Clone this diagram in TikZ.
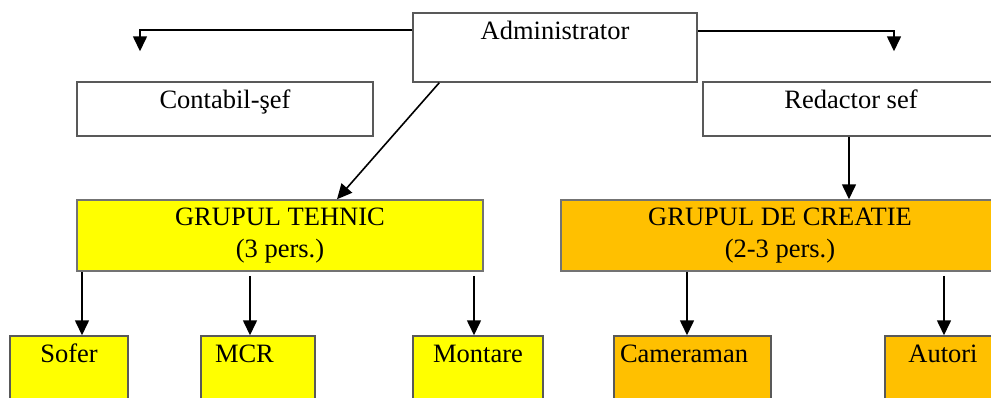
\documentclass[tikz,border=0pt]{standalone}
\usepackage{fontspec}
\setmainfont{Liberation Serif}
\usepackage{xcolor}
\usepackage{tikz}
\usetikzlibrary{positioning,arrows.meta}
\definecolor{tehnicyellow}{HTML}{FFFF00}
\definecolor{creatieorange}{HTML}{FFC000}

\begin{document}
\begin{tikzpicture}[
x=1pt, y=1pt,
font=\fontsize{26.5}{32}\selectfont,
>={Triangle[width=14pt,length=15pt]},
box/.style={rectangle, draw=black!65, line width=1.5pt, fill=white, inner sep=0pt, align=center, text height=26pt},
group/.style={rectangle, draw=black!55, line width=1.5pt, inner sep=0pt, align=center, minimum height=71pt},
leaf/.style={box, text depth=54pt},
link/.style={->, line width=1.6pt}
]
\useasboundingbox (0,0) rectangle (991,-397);

\node[box, minimum width=284pt, text depth=43pt](admin) at (555,-47.5){Administrator};
\node[box, minimum width=296pt, text depth=28pt](contabil) at (225,-109){Contabil-şef};
\node[box, minimum width=296pt, text depth=28pt](redactor)[right of = contabil, node distance=626pt]{Redactor sef};
\node[group, fill=tehnicyellow, minimum width=406pt](tehnic) at (280,-235.5){GRUPUL TEHNIC\\(3 pers.)};
\node[group, fill=creatieorange, minimum width=438pt](creatie)[right of = tehnic, node distance=500pt]{GRUPUL DE CREATIE\\(2-3 pers.)};
\node[leaf, fill=tehnicyellow, minimum width=118pt](sofer) at (69,-376){Sofer};
\node[leaf, fill=tehnicyellow, text width=86pt, inner xsep=14pt, align=left](mcr)[right of = sofer, node distance=189pt]{MCR};
\node[leaf, fill=tehnicyellow, minimum width=130pt](montare)[right of = mcr, node distance=220pt]{Montare};
\node[leaf, fill=creatieorange, text width=145pt, inner xsep=6pt, align=left](cameraman)[right of = montare, node distance=214.5pt]{Cameraman};
\node[leaf, fill=creatieorange, minimum width=116pt](autori)[right of = cameraman, node distance=250.5pt]{Autori};

\coordinate (contabil_in) at ([xshift=-85pt, yshift=30pt]contabil.north);
\coordinate (redactor_in) at ([xshift=43pt, yshift=30pt]redactor.north);

\draw[link] ([yshift=17.5pt]admin.west) -| (contabil_in);
\draw[link] ([yshift=16.5pt]admin.east) -| (redactor_in);
\draw[link] ([xshift=27pt]admin.south west) -- ([xshift=57pt]tehnic.north);
\draw[link] ([xshift=-2pt]redactor.south) -- ([xshift=-2pt]redactor.south |- creatie.north);

\draw[link] ([xshift=13pt]sofer.north |- tehnic.south) -- ([xshift=13pt]sofer.north);
\draw[link, shorten <=4pt] ([xshift=-8pt]mcr.north |- tehnic.south) -- ([xshift=-8pt]mcr.north);
\draw[link, shorten <=4pt] ([xshift=-4pt]montare.north |- tehnic.south) -- ([xshift=-4pt]montare.north);
\draw[link] ([xshift=-5.5pt]cameraman.north |- creatie.south) -- ([xshift=-5.5pt]cameraman.north);
\draw[link, shorten <=4pt] ([xshift=1pt]autori.north |- creatie.south) -- ([xshift=1pt]autori.north);

\end{tikzpicture}
\end{document}
